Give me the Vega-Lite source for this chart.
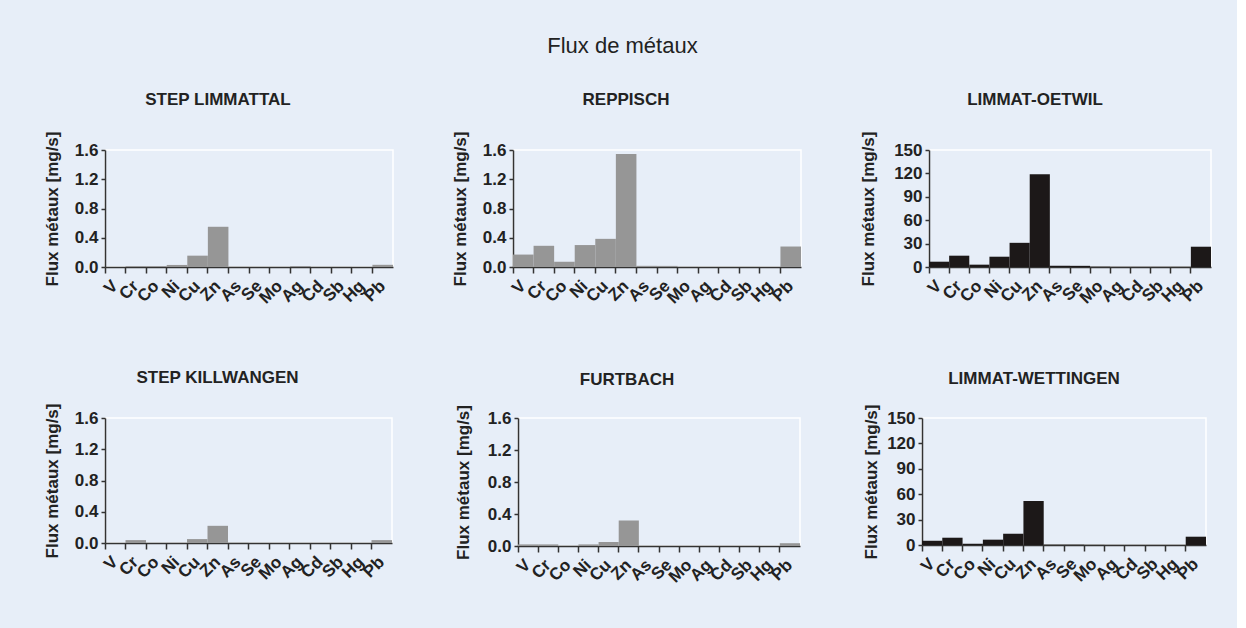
{
  "$schema": "https://vega.github.io/schema/vega-lite/v6.json",
  "background": "#E7EEF8",
  "padding": {"left": 42, "top": 35, "right": 25, "bottom": 50},
  "title": {"text": "Flux de métaux", "fontSize": 22, "fontWeight": "normal", "font": "Liberation Sans", "color": "#222222", "anchor": "start", "dx": 505, "offset": 32},
  "data": {"values": [
    {"site": "STEP LIMMATTAL", "metal": "V", "flux": 0},
    {"site": "STEP LIMMATTAL", "metal": "Cr", "flux": 0.012},
    {"site": "STEP LIMMATTAL", "metal": "Co", "flux": 0.012},
    {"site": "STEP LIMMATTAL", "metal": "Ni", "flux": 0.028},
    {"site": "STEP LIMMATTAL", "metal": "Cu", "flux": 0.155},
    {"site": "STEP LIMMATTAL", "metal": "Zn", "flux": 0.55},
    {"site": "STEP LIMMATTAL", "metal": "As", "flux": 0.003},
    {"site": "STEP LIMMATTAL", "metal": "Se", "flux": 0.002},
    {"site": "STEP LIMMATTAL", "metal": "Mo", "flux": 0.002},
    {"site": "STEP LIMMATTAL", "metal": "Ag", "flux": 0.013},
    {"site": "STEP LIMMATTAL", "metal": "Cd", "flux": 0.002},
    {"site": "STEP LIMMATTAL", "metal": "Sb", "flux": 0.002},
    {"site": "STEP LIMMATTAL", "metal": "Hg", "flux": 0.001},
    {"site": "STEP LIMMATTAL", "metal": "Pb", "flux": 0.03},
    {"site": "REPPISCH", "metal": "V", "flux": 0.17},
    {"site": "REPPISCH", "metal": "Cr", "flux": 0.29},
    {"site": "REPPISCH", "metal": "Co", "flux": 0.073},
    {"site": "REPPISCH", "metal": "Ni", "flux": 0.30},
    {"site": "REPPISCH", "metal": "Cu", "flux": 0.385},
    {"site": "REPPISCH", "metal": "Zn", "flux": 1.545},
    {"site": "REPPISCH", "metal": "As", "flux": 0.016},
    {"site": "REPPISCH", "metal": "Se", "flux": 0.015},
    {"site": "REPPISCH", "metal": "Mo", "flux": 0.003},
    {"site": "REPPISCH", "metal": "Ag", "flux": 0.002},
    {"site": "REPPISCH", "metal": "Cd", "flux": 0.002},
    {"site": "REPPISCH", "metal": "Sb", "flux": 0.002},
    {"site": "REPPISCH", "metal": "Hg", "flux": 0.001},
    {"site": "REPPISCH", "metal": "Pb", "flux": 0.28},
    {"site": "LIMMAT-OETWIL", "metal": "V", "flux": 6.8},
    {"site": "LIMMAT-OETWIL", "metal": "Cr", "flux": 14.5},
    {"site": "LIMMAT-OETWIL", "metal": "Co", "flux": 3.0},
    {"site": "LIMMAT-OETWIL", "metal": "Ni", "flux": 13.2},
    {"site": "LIMMAT-OETWIL", "metal": "Cu", "flux": 31},
    {"site": "LIMMAT-OETWIL", "metal": "Zn", "flux": 119},
    {"site": "LIMMAT-OETWIL", "metal": "As", "flux": 1.5},
    {"site": "LIMMAT-OETWIL", "metal": "Se", "flux": 1.5},
    {"site": "LIMMAT-OETWIL", "metal": "Mo", "flux": 0.5},
    {"site": "LIMMAT-OETWIL", "metal": "Ag", "flux": 0.3},
    {"site": "LIMMAT-OETWIL", "metal": "Cd", "flux": 0.3},
    {"site": "LIMMAT-OETWIL", "metal": "Sb", "flux": 0.3},
    {"site": "LIMMAT-OETWIL", "metal": "Hg", "flux": 0.3},
    {"site": "LIMMAT-OETWIL", "metal": "Pb", "flux": 26},
    {"site": "STEP KILLWANGEN", "metal": "V", "flux": 0},
    {"site": "STEP KILLWANGEN", "metal": "Cr", "flux": 0.037},
    {"site": "STEP KILLWANGEN", "metal": "Co", "flux": 0.002},
    {"site": "STEP KILLWANGEN", "metal": "Ni", "flux": 0.003},
    {"site": "STEP KILLWANGEN", "metal": "Cu", "flux": 0.05},
    {"site": "STEP KILLWANGEN", "metal": "Zn", "flux": 0.22},
    {"site": "STEP KILLWANGEN", "metal": "As", "flux": 0.004},
    {"site": "STEP KILLWANGEN", "metal": "Se", "flux": 0.002},
    {"site": "STEP KILLWANGEN", "metal": "Mo", "flux": 0.002},
    {"site": "STEP KILLWANGEN", "metal": "Ag", "flux": 0.002},
    {"site": "STEP KILLWANGEN", "metal": "Cd", "flux": 0.002},
    {"site": "STEP KILLWANGEN", "metal": "Sb", "flux": 0.002},
    {"site": "STEP KILLWANGEN", "metal": "Hg", "flux": 0.001},
    {"site": "STEP KILLWANGEN", "metal": "Pb", "flux": 0.037},
    {"site": "FURTBACH", "metal": "V", "flux": 0.02},
    {"site": "FURTBACH", "metal": "Cr", "flux": 0.02},
    {"site": "FURTBACH", "metal": "Co", "flux": 0.003},
    {"site": "FURTBACH", "metal": "Ni", "flux": 0.02},
    {"site": "FURTBACH", "metal": "Cu", "flux": 0.05},
    {"site": "FURTBACH", "metal": "Zn", "flux": 0.32},
    {"site": "FURTBACH", "metal": "As", "flux": 0.003},
    {"site": "FURTBACH", "metal": "Se", "flux": 0.002},
    {"site": "FURTBACH", "metal": "Mo", "flux": 0.002},
    {"site": "FURTBACH", "metal": "Ag", "flux": 0.002},
    {"site": "FURTBACH", "metal": "Cd", "flux": 0.002},
    {"site": "FURTBACH", "metal": "Sb", "flux": 0.002},
    {"site": "FURTBACH", "metal": "Hg", "flux": 0.001},
    {"site": "FURTBACH", "metal": "Pb", "flux": 0.035},
    {"site": "LIMMAT-WETTINGEN", "metal": "V", "flux": 5.0},
    {"site": "LIMMAT-WETTINGEN", "metal": "Cr", "flux": 8.6},
    {"site": "LIMMAT-WETTINGEN", "metal": "Co", "flux": 1.5},
    {"site": "LIMMAT-WETTINGEN", "metal": "Ni", "flux": 6.3},
    {"site": "LIMMAT-WETTINGEN", "metal": "Cu", "flux": 13.3},
    {"site": "LIMMAT-WETTINGEN", "metal": "Zn", "flux": 52},
    {"site": "LIMMAT-WETTINGEN", "metal": "As", "flux": 0.5},
    {"site": "LIMMAT-WETTINGEN", "metal": "Se", "flux": 0.5},
    {"site": "LIMMAT-WETTINGEN", "metal": "Mo", "flux": 0.3},
    {"site": "LIMMAT-WETTINGEN", "metal": "Ag", "flux": 0.2},
    {"site": "LIMMAT-WETTINGEN", "metal": "Cd", "flux": 0.2},
    {"site": "LIMMAT-WETTINGEN", "metal": "Sb", "flux": 0.2},
    {"site": "LIMMAT-WETTINGEN", "metal": "Hg", "flux": 0.2},
    {"site": "LIMMAT-WETTINGEN", "metal": "Pb", "flux": 9.8}
  ]},
  "config": {
    "font": "Liberation Sans",
    "view": {"stroke": "white", "strokeWidth": 1.5},
    "title": {"fontSize": 17, "fontWeight": "bold", "color": "#222222", "anchor": "middle", "frame": "bounds", "font": "Liberation Sans"},
    "axis": {"labelFont": "Liberation Sans", "labelFontSize": 17, "labelFontWeight": "bold", "labelColor": "#222222", "titleFont": "Liberation Sans", "titleFontSize": 17, "titleFontWeight": "bold", "titleColor": "#222222", "domainColor": "#333333", "tickColor": "#333333", "grid": false, "domainWidth": 1.5, "tickWidth": 1.5},
    "axisX": {"title": null, "bandPosition": 0, "labelAngle": -45, "labelAlign": "right", "labelBaseline": "middle", "tickSize": 6, "labelPadding": 10, "labelFontSize": 17},
    "axisY": {"tickSize": 4, "labelPadding": 3, "minExtent": 40, "maxExtent": 40, "titlePadding": 4}
  },
  "spacing": 61,
  "vconcat": [
    {"spacing": 56, "hconcat": [
      {"width": 288, "height": 117, "title": {"text": "STEP LIMMATTAL", "offset": 22},
       "transform": [{"filter": "datum.site == 'STEP LIMMATTAL'"}],
       "mark": {"type": "bar", "color": "#969696"},
       "encoding": {
         "x": {"field": "metal", "type": "nominal", "sort": ["V","Cr","Co","Ni","Cu","Zn","As","Se","Mo","Ag","Cd","Sb","Hg","Pb"], "scale": {"paddingInner": 0, "paddingOuter": 0}},
         "y": {"field": "flux", "type": "quantitative", "scale": {"domain": [0, 1.6], "nice": false}, "axis": {"values": [0, 0.4, 0.8, 1.2, 1.6], "format": ".1f", "title": "Flux métaux [mg/s]"}}
       }},
      {"width": 288, "height": 117, "title": {"text": "REPPISCH", "offset": 22},
       "transform": [{"filter": "datum.site == 'REPPISCH'"}],
       "mark": {"type": "bar", "color": "#969696"},
       "encoding": {
         "x": {"field": "metal", "type": "nominal", "sort": ["V","Cr","Co","Ni","Cu","Zn","As","Se","Mo","Ag","Cd","Sb","Hg","Pb"], "scale": {"paddingInner": 0, "paddingOuter": 0}},
         "y": {"field": "flux", "type": "quantitative", "scale": {"domain": [0, 1.6], "nice": false}, "axis": {"values": [0, 0.4, 0.8, 1.2, 1.6], "format": ".1f", "title": "Flux métaux [mg/s]"}}
       }},
      {"width": 282, "height": 117, "title": {"text": "LIMMAT-OETWIL", "offset": 22},
       "transform": [{"filter": "datum.site == 'LIMMAT-OETWIL'"}],
       "mark": {"type": "bar", "color": "#1c1818"},
       "encoding": {
         "x": {"field": "metal", "type": "nominal", "sort": ["V","Cr","Co","Ni","Cu","Zn","As","Se","Mo","Ag","Cd","Sb","Hg","Pb"], "scale": {"paddingInner": 0, "paddingOuter": 0}},
         "y": {"field": "flux", "type": "quantitative", "scale": {"domain": [0, 150], "nice": false}, "axis": {"values": [0, 30, 60, 90, 120, 150], "format": "d", "title": "Flux métaux [mg/s]", "titlePadding": 12}}
       }}
    ]},
    {"spacing": 60, "hconcat": [
      {"width": 287, "height": 125, "title": {"text": "STEP KILLWANGEN", "offset": 16},
       "transform": [{"filter": "datum.site == 'STEP KILLWANGEN'"}],
       "mark": {"type": "bar", "color": "#969696"},
       "encoding": {
         "x": {"field": "metal", "type": "nominal", "sort": ["V","Cr","Co","Ni","Cu","Zn","As","Se","Mo","Ag","Cd","Sb","Hg","Pb"], "scale": {"paddingInner": 0, "paddingOuter": 0}},
         "y": {"field": "flux", "type": "quantitative", "scale": {"domain": [0, 1.6], "nice": false}, "axis": {"values": [0, 0.4, 0.8, 1.2, 1.6], "format": ".1f", "title": "Flux métaux [mg/s]"}}
       }},
      {"width": 282, "height": 128, "title": {"text": "FURTBACH", "offset": 16},
       "transform": [{"filter": "datum.site == 'FURTBACH'"}],
       "mark": {"type": "bar", "color": "#969696"},
       "encoding": {
         "x": {"field": "metal", "type": "nominal", "sort": ["V","Cr","Co","Ni","Cu","Zn","As","Se","Mo","Ag","Cd","Sb","Hg","Pb"], "scale": {"paddingInner": 0, "paddingOuter": 0}},
         "y": {"field": "flux", "type": "quantitative", "scale": {"domain": [0, 1.6], "nice": false}, "axis": {"values": [0, 0.4, 0.8, 1.2, 1.6], "format": ".1f", "title": "Flux métaux [mg/s]", "titlePadding": 6}}
       }},
      {"width": 284, "height": 127, "title": {"text": "LIMMAT-WETTINGEN", "offset": 16},
       "transform": [{"filter": "datum.site == 'LIMMAT-WETTINGEN'"}],
       "mark": {"type": "bar", "color": "#1c1818"},
       "encoding": {
         "x": {"field": "metal", "type": "nominal", "sort": ["V","Cr","Co","Ni","Cu","Zn","As","Se","Mo","Ag","Cd","Sb","Hg","Pb"], "scale": {"paddingInner": 0, "paddingOuter": 0}},
         "y": {"field": "flux", "type": "quantitative", "scale": {"domain": [0, 150], "nice": false}, "axis": {"values": [0, 30, 60, 90, 120, 150], "format": "d", "title": "Flux métaux [mg/s]", "titlePadding": 2}}
       }}
    ]}
  ]
}
